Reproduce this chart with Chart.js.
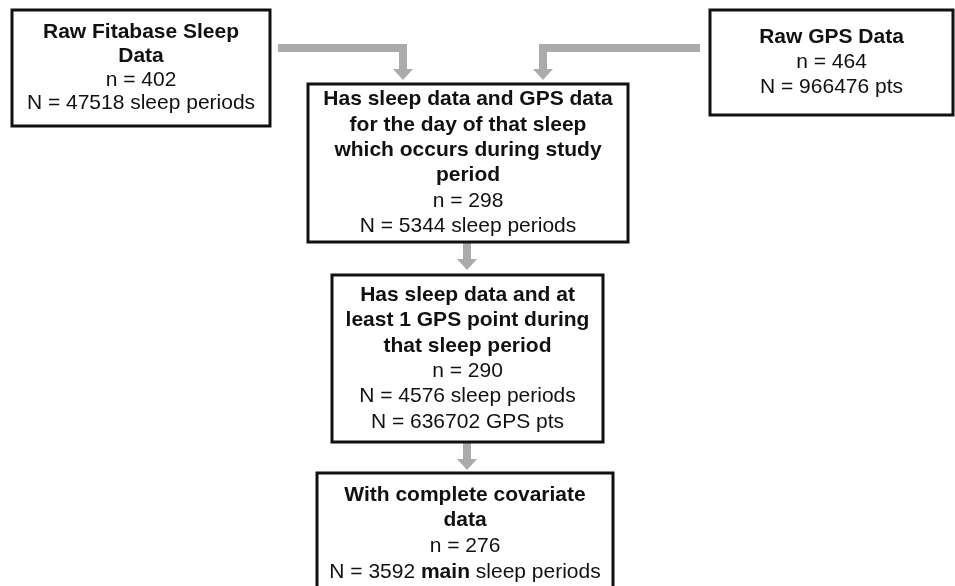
<!DOCTYPE html>
<html>
<head>
<meta charset="utf-8">
<script src="https://cdn.jsdelivr.net/npm/chart.js@4/dist/chart.umd.min.js"></script>
<style>
  html, body { margin: 0; padding: 0; background: #fff; }
  canvas { display: block; }
</style>
</head>
<body>
<canvas id="flow" width="955" height="586"></canvas>
<script>
// stages of the sample selection, in drawing order
var stageTitles = [
  ['Raw Fitabase Sleep', 'Data'],
  ['Raw GPS Data'],
  ['Has sleep data and GPS data', 'for the day of that sleep', 'which occurs during study', 'period'],
  ['Has sleep data and at', 'least 1 GPS point during', 'that sleep period'],
  ['With complete covariate', 'data']
];
var participants = [402, 464, 298, 290, 276];
var sleepPeriods = [47518, null, 5344, 4576, 3592];
var gpsPoints = [null, 966476, null, 636702, null];
var sleepLabels = ['sleep periods', null, 'sleep periods', 'sleep periods', 'sleep periods'];
var gpsLabels = [null, 'pts', null, 'GPS pts', null];
var mainOnly = [false, false, false, false, true];

// layout (in page units)
var boxes = [
  { x0: 12, y0: 10, x1: 270, y1: 126, lh: 23.8 },
  { x0: 710, y0: 10, x1: 953, y1: 115, lh: 25 },
  { x0: 308, y0: 84, x1: 628, y1: 242, lh: 25.4 },
  { x0: 332, y0: 275, x1: 603, y1: 442, lh: 25.4 },
  { x0: 317, y0: 473, x1: 613, y1: 594, lh: 25.6 }
];
var arrows = [
  [[278, 48], [403, 48], [403, 80]],
  [[700, 48], [543, 48], [543, 80]],
  [[467, 243], [467, 270]],
  [[467, 442], [467, 470]]
];

var FONT = '"Liberation Sans", Arial, Helvetica, sans-serif';

function stageLines(i) {
  var lines = stageTitles[i].map(function(t) { return [{ text: t, bold: true }]; });
  lines.push([{ text: 'n = ' + participants[i], bold: false }]);
  if (sleepPeriods[i] !== null) {
    if (mainOnly[i]) {
      lines.push([
        { text: 'N = ' + sleepPeriods[i] + ' ', bold: false },
        { text: 'main', bold: true },
        { text: ' ' + sleepLabels[i], bold: false }
      ]);
    } else {
      lines.push([{ text: 'N = ' + sleepPeriods[i] + ' ' + sleepLabels[i], bold: false }]);
    }
  }
  if (gpsPoints[i] !== null) {
    lines.push([{ text: 'N = ' + gpsPoints[i] + ' ' + gpsLabels[i], bold: false }]);
  }
  return lines;
}

var flowPlugin = {
  id: 'flow',
  afterDraw: function(chart) {
    var ctx = chart.ctx;
    var sx = chart.scales.x, sy = chart.scales.y;
    var px = function(v) { return sx.getPixelForValue(v); };
    var py = function(v) { return sy.getPixelForValue(v); };

    ctx.save();
    // arrows
    arrows.forEach(function(pts) {
      var n = pts.length;
      var tip = pts[n - 1];
      var headLen = 11, headW = 10;
      ctx.strokeStyle = '#ababab';
      ctx.fillStyle = '#ababab';
      ctx.lineWidth = 8;
      ctx.lineJoin = 'miter';
      ctx.lineCap = 'butt';
      ctx.beginPath();
      ctx.moveTo(px(pts[0][0]), py(pts[0][1]));
      for (var k = 1; k < n - 1; k++) ctx.lineTo(px(pts[k][0]), py(pts[k][1]));
      ctx.lineTo(px(tip[0]), py(tip[1] - headLen));
      ctx.stroke();
      ctx.beginPath();
      ctx.moveTo(px(tip[0] - headW), py(tip[1] - headLen));
      ctx.lineTo(px(tip[0] + headW), py(tip[1] - headLen));
      ctx.lineTo(px(tip[0]), py(tip[1]));
      ctx.closePath();
      ctx.fill();
    });

    // boxes and their text
    boxes.forEach(function(b, i) {
      ctx.fillStyle = '#fff';
      ctx.fillRect(px(b.x0), py(b.y0), px(b.x1) - px(b.x0), py(b.y1) - py(b.y0));
      ctx.strokeStyle = '#111';
      ctx.lineWidth = 3;
      ctx.strokeRect(px(b.x0), py(b.y0), px(b.x1) - px(b.x0), py(b.y1) - py(b.y0));

      var lines = stageLines(i);
      var cx = (b.x0 + b.x1) / 2, cy = (b.y0 + b.y1) / 2;
      ctx.fillStyle = '#111';
      ctx.textBaseline = 'middle';
      ctx.textAlign = 'left';
      lines.forEach(function(segs, j) {
        var y = cy + (j - (lines.length - 1) / 2) * b.lh;
        var widths = segs.map(function(s) {
          ctx.font = (s.bold ? 'bold ' : '') + '21px ' + FONT;
          return ctx.measureText(s.text).width;
        });
        var total = widths.reduce(function(a, w) { return a + w; }, 0);
        var x = px(cx) - total / 2;
        segs.forEach(function(s, k) {
          ctx.font = (s.bold ? 'bold ' : '') + '21px ' + FONT;
          ctx.fillText(s.text, x, py(y));
          x += widths[k];
        });
      });
    });
    ctx.restore();
  }
};

new Chart(document.getElementById('flow').getContext('2d'), {
  type: 'scatter',
  data: { datasets: [] },
  options: {
    responsive: false,
    animation: false,
    layout: { padding: 0 },
    plugins: { legend: { display: false }, tooltip: { enabled: false } },
    scales: {
      x: { type: 'linear', min: 0, max: 955, display: false },
      y: { type: 'linear', min: 0, max: 586, reverse: true, display: false }
    }
  },
  plugins: [flowPlugin]
});
</script>
</body>
</html>
